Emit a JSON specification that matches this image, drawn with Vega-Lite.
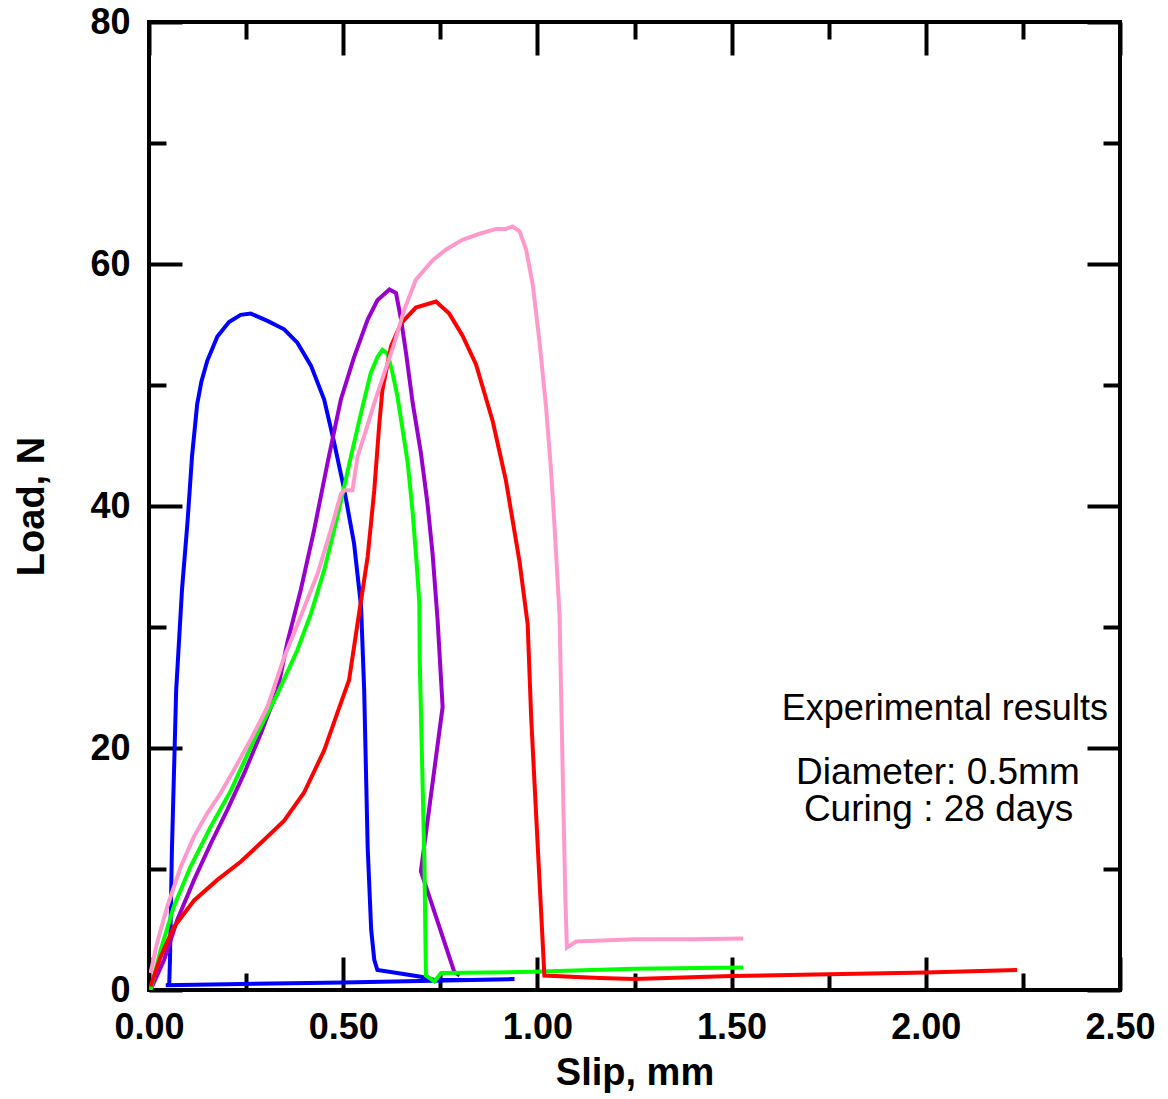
{
  "$schema": "https://vega.github.io/schema/vega-lite/v6.json",
  "width": 971,
  "height": 968,
  "autosize": {"type": "none"},
  "padding": {"left": 149, "top": 22, "right": 48, "bottom": 109},
  "background": "white",
  "config": {
    "view": {"stroke": "black", "strokeWidth": 4},
    "axis": {
      "grid": false,
      "domain": false,
      "tickColor": "black",
      "tickWidth": 4,
      "labelFont": "Liberation Sans",
      "labelFontSize": 36,
      "labelFontWeight": "bold",
      "labelColor": "black",
      "labelFlush": false,
      "labelOverlap": false,
      "titleFont": "Liberation Sans",
      "titleFontSize": 38,
      "titleFontWeight": "bold",
      "titleColor": "black"
    }
  },
  "data": {
    "values": [
      {"specimen": "A", "idx": 1, "slip": 0.052, "load": 0.41},
      {"specimen": "A", "idx": 2, "slip": 0.054, "load": 2.5},
      {"specimen": "A", "idx": 3, "slip": 0.059, "load": 11.6},
      {"specimen": "A", "idx": 4, "slip": 0.070, "load": 24.8},
      {"specimen": "A", "idx": 5, "slip": 0.085, "load": 33.1},
      {"specimen": "A", "idx": 6, "slip": 0.099, "load": 38.6},
      {"specimen": "A", "idx": 7, "slip": 0.111, "load": 44.2},
      {"specimen": "A", "idx": 8, "slip": 0.124, "load": 48.4},
      {"specimen": "A", "idx": 9, "slip": 0.135, "load": 50.3},
      {"specimen": "A", "idx": 10, "slip": 0.150, "load": 52.0},
      {"specimen": "A", "idx": 11, "slip": 0.176, "load": 54.0},
      {"specimen": "A", "idx": 12, "slip": 0.206, "load": 55.2},
      {"specimen": "A", "idx": 13, "slip": 0.236, "load": 55.8},
      {"specimen": "A", "idx": 14, "slip": 0.262, "load": 55.9},
      {"specimen": "A", "idx": 15, "slip": 0.305, "load": 55.3},
      {"specimen": "A", "idx": 16, "slip": 0.348, "load": 54.6},
      {"specimen": "A", "idx": 17, "slip": 0.382, "load": 53.5},
      {"specimen": "A", "idx": 18, "slip": 0.417, "load": 51.6},
      {"specimen": "A", "idx": 19, "slip": 0.451, "load": 48.8},
      {"specimen": "A", "idx": 20, "slip": 0.477, "load": 45.2},
      {"specimen": "A", "idx": 21, "slip": 0.503, "load": 41.3},
      {"specimen": "A", "idx": 22, "slip": 0.528, "load": 36.9},
      {"specimen": "A", "idx": 23, "slip": 0.546, "load": 31.7},
      {"specimen": "A", "idx": 24, "slip": 0.554, "load": 24.8},
      {"specimen": "A", "idx": 25, "slip": 0.563, "load": 11.8},
      {"specimen": "A", "idx": 26, "slip": 0.572, "load": 5.0},
      {"specimen": "A", "idx": 27, "slip": 0.580, "load": 2.5},
      {"specimen": "A", "idx": 28, "slip": 0.588, "load": 1.65},
      {"specimen": "A", "idx": 29, "slip": 0.639, "load": 1.4},
      {"specimen": "A", "idx": 30, "slip": 0.700, "load": 1.1},
      {"specimen": "A", "idx": 31, "slip": 0.735, "load": 0.83},
      {"specimen": "A", "idx": 32, "slip": 0.825, "load": 0.83},
      {"specimen": "A", "idx": 33, "slip": 0.941, "load": 0.9},
      {"specimen": "A", "idx": 34, "slip": 0.500, "load": 0.62},
      {"specimen": "A", "idx": 35, "slip": 0.043, "load": 0.4},

      {"specimen": "B", "idx": 1, "slip": 0.004, "load": 0.0},
      {"specimen": "B", "idx": 2, "slip": 0.039, "load": 2.5},
      {"specimen": "B", "idx": 3, "slip": 0.073, "load": 5.8},
      {"specimen": "B", "idx": 4, "slip": 0.116, "load": 9.1},
      {"specimen": "B", "idx": 5, "slip": 0.159, "load": 12.1},
      {"specimen": "B", "idx": 6, "slip": 0.202, "load": 14.9},
      {"specimen": "B", "idx": 7, "slip": 0.245, "load": 17.9},
      {"specimen": "B", "idx": 8, "slip": 0.288, "load": 21.2},
      {"specimen": "B", "idx": 9, "slip": 0.331, "load": 24.8},
      {"specimen": "B", "idx": 10, "slip": 0.356, "load": 28.7},
      {"specimen": "B", "idx": 11, "slip": 0.391, "load": 33.1},
      {"specimen": "B", "idx": 12, "slip": 0.425, "load": 38.0},
      {"specimen": "B", "idx": 13, "slip": 0.460, "load": 43.6},
      {"specimen": "B", "idx": 14, "slip": 0.494, "load": 48.8},
      {"specimen": "B", "idx": 15, "slip": 0.528, "load": 52.3},
      {"specimen": "B", "idx": 16, "slip": 0.563, "load": 55.4},
      {"specimen": "B", "idx": 17, "slip": 0.588, "load": 57.0},
      {"specimen": "B", "idx": 18, "slip": 0.619, "load": 57.9},
      {"specimen": "B", "idx": 19, "slip": 0.636, "load": 57.6},
      {"specimen": "B", "idx": 20, "slip": 0.649, "load": 55.4},
      {"specimen": "B", "idx": 21, "slip": 0.662, "load": 52.6},
      {"specimen": "B", "idx": 22, "slip": 0.679, "load": 48.5},
      {"specimen": "B", "idx": 23, "slip": 0.700, "load": 44.4},
      {"specimen": "B", "idx": 24, "slip": 0.717, "load": 40.2},
      {"specimen": "B", "idx": 25, "slip": 0.730, "load": 36.1},
      {"specimen": "B", "idx": 26, "slip": 0.743, "load": 30.6},
      {"specimen": "B", "idx": 27, "slip": 0.756, "load": 23.4},
      {"specimen": "B", "idx": 28, "slip": 0.700, "load": 9.8},
      {"specimen": "B", "idx": 29, "slip": 0.722, "load": 7.7},
      {"specimen": "B", "idx": 30, "slip": 0.786, "load": 1.5},
      {"specimen": "B", "idx": 31, "slip": 0.800, "load": 1.2},

      {"specimen": "C", "idx": 1, "slip": 0.004, "load": 0.0},
      {"specimen": "C", "idx": 2, "slip": 0.030, "load": 3.3},
      {"specimen": "C", "idx": 3, "slip": 0.064, "load": 6.9},
      {"specimen": "C", "idx": 4, "slip": 0.107, "load": 10.2},
      {"specimen": "C", "idx": 5, "slip": 0.159, "load": 13.5},
      {"specimen": "C", "idx": 6, "slip": 0.211, "load": 16.5},
      {"specimen": "C", "idx": 7, "slip": 0.271, "load": 20.7},
      {"specimen": "C", "idx": 8, "slip": 0.331, "load": 24.5},
      {"specimen": "C", "idx": 9, "slip": 0.382, "load": 28.1},
      {"specimen": "C", "idx": 10, "slip": 0.417, "load": 31.1},
      {"specimen": "C", "idx": 11, "slip": 0.451, "load": 34.7},
      {"specimen": "C", "idx": 12, "slip": 0.485, "load": 39.1},
      {"specimen": "C", "idx": 13, "slip": 0.520, "load": 44.1},
      {"specimen": "C", "idx": 14, "slip": 0.546, "load": 47.7},
      {"specimen": "C", "idx": 15, "slip": 0.571, "load": 51.0},
      {"specimen": "C", "idx": 16, "slip": 0.588, "load": 52.3},
      {"specimen": "C", "idx": 17, "slip": 0.601, "load": 52.9},
      {"specimen": "C", "idx": 18, "slip": 0.614, "load": 52.6},
      {"specimen": "C", "idx": 19, "slip": 0.627, "load": 51.0},
      {"specimen": "C", "idx": 20, "slip": 0.640, "load": 49.0},
      {"specimen": "C", "idx": 21, "slip": 0.653, "load": 46.3},
      {"specimen": "C", "idx": 22, "slip": 0.666, "load": 43.6},
      {"specimen": "C", "idx": 23, "slip": 0.679, "load": 39.4},
      {"specimen": "C", "idx": 24, "slip": 0.689, "load": 35.3},
      {"specimen": "C", "idx": 25, "slip": 0.696, "load": 32.0},
      {"specimen": "C", "idx": 26, "slip": 0.697, "load": 27.3},
      {"specimen": "C", "idx": 27, "slip": 0.703, "load": 19.0},
      {"specimen": "C", "idx": 28, "slip": 0.709, "load": 10.7},
      {"specimen": "C", "idx": 29, "slip": 0.713, "load": 1.2},
      {"specimen": "C", "idx": 30, "slip": 0.735, "load": 0.7},
      {"specimen": "C", "idx": 31, "slip": 0.752, "load": 1.4},
      {"specimen": "C", "idx": 32, "slip": 0.987, "load": 1.5},
      {"specimen": "C", "idx": 33, "slip": 1.250, "load": 1.75},
      {"specimen": "C", "idx": 34, "slip": 1.530, "load": 1.85},

      {"specimen": "D", "idx": 1, "slip": 0.004, "load": 0.3},
      {"specimen": "D", "idx": 2, "slip": 0.030, "load": 2.75},
      {"specimen": "D", "idx": 3, "slip": 0.064, "load": 5.2},
      {"specimen": "D", "idx": 4, "slip": 0.116, "load": 7.4},
      {"specimen": "D", "idx": 5, "slip": 0.176, "load": 9.1},
      {"specimen": "D", "idx": 6, "slip": 0.236, "load": 10.6},
      {"specimen": "D", "idx": 7, "slip": 0.296, "load": 12.4},
      {"specimen": "D", "idx": 8, "slip": 0.348, "load": 14.0},
      {"specimen": "D", "idx": 9, "slip": 0.399, "load": 16.3},
      {"specimen": "D", "idx": 10, "slip": 0.451, "load": 19.8},
      {"specimen": "D", "idx": 11, "slip": 0.485, "load": 22.9},
      {"specimen": "D", "idx": 12, "slip": 0.515, "load": 25.6},
      {"specimen": "D", "idx": 13, "slip": 0.537, "load": 30.3},
      {"specimen": "D", "idx": 14, "slip": 0.563, "load": 35.8},
      {"specimen": "D", "idx": 15, "slip": 0.580, "load": 41.3},
      {"specimen": "D", "idx": 16, "slip": 0.593, "load": 46.8},
      {"specimen": "D", "idx": 17, "slip": 0.601, "load": 49.6},
      {"specimen": "D", "idx": 18, "slip": 0.623, "load": 53.2},
      {"specimen": "D", "idx": 19, "slip": 0.649, "load": 55.1},
      {"specimen": "D", "idx": 20, "slip": 0.687, "load": 56.4},
      {"specimen": "D", "idx": 21, "slip": 0.739, "load": 56.9},
      {"specimen": "D", "idx": 22, "slip": 0.773, "load": 55.9},
      {"specimen": "D", "idx": 23, "slip": 0.807, "load": 54.1},
      {"specimen": "D", "idx": 24, "slip": 0.842, "load": 51.7},
      {"specimen": "D", "idx": 25, "slip": 0.885, "load": 47.0},
      {"specimen": "D", "idx": 26, "slip": 0.919, "load": 42.1},
      {"specimen": "D", "idx": 27, "slip": 0.954, "load": 35.4},
      {"specimen": "D", "idx": 28, "slip": 0.975, "load": 30.2},
      {"specimen": "D", "idx": 29, "slip": 0.984, "load": 22.5},
      {"specimen": "D", "idx": 30, "slip": 1.001, "load": 11.8},
      {"specimen": "D", "idx": 31, "slip": 1.018, "load": 1.2},
      {"specimen": "D", "idx": 32, "slip": 1.160, "load": 1.0},
      {"specimen": "D", "idx": 33, "slip": 1.250, "load": 0.9},
      {"specimen": "D", "idx": 34, "slip": 1.500, "load": 1.15},
      {"specimen": "D", "idx": 35, "slip": 1.750, "load": 1.3},
      {"specimen": "D", "idx": 36, "slip": 2.000, "load": 1.45},
      {"specimen": "D", "idx": 37, "slip": 2.235, "load": 1.65},

      {"specimen": "E", "idx": 1, "slip": 0.004, "load": 1.4},
      {"specimen": "E", "idx": 2, "slip": 0.021, "load": 3.9},
      {"specimen": "E", "idx": 3, "slip": 0.047, "load": 6.9},
      {"specimen": "E", "idx": 4, "slip": 0.082, "load": 10.2},
      {"specimen": "E", "idx": 5, "slip": 0.116, "load": 12.7},
      {"specimen": "E", "idx": 6, "slip": 0.150, "load": 14.6},
      {"specimen": "E", "idx": 7, "slip": 0.185, "load": 16.3},
      {"specimen": "E", "idx": 8, "slip": 0.219, "load": 18.2},
      {"specimen": "E", "idx": 9, "slip": 0.262, "load": 20.7},
      {"specimen": "E", "idx": 10, "slip": 0.305, "load": 23.4},
      {"specimen": "E", "idx": 11, "slip": 0.348, "load": 27.5},
      {"specimen": "E", "idx": 12, "slip": 0.391, "load": 30.9},
      {"specimen": "E", "idx": 13, "slip": 0.434, "load": 34.4},
      {"specimen": "E", "idx": 14, "slip": 0.468, "load": 38.0},
      {"specimen": "E", "idx": 15, "slip": 0.494, "load": 41.0},
      {"specimen": "E", "idx": 16, "slip": 0.503, "load": 41.3},
      {"specimen": "E", "idx": 17, "slip": 0.524, "load": 41.3},
      {"specimen": "E", "idx": 18, "slip": 0.537, "load": 44.1},
      {"specimen": "E", "idx": 19, "slip": 0.559, "load": 46.3},
      {"specimen": "E", "idx": 20, "slip": 0.580, "load": 48.5},
      {"specimen": "E", "idx": 21, "slip": 0.606, "load": 51.0},
      {"specimen": "E", "idx": 22, "slip": 0.631, "load": 53.4},
      {"specimen": "E", "idx": 23, "slip": 0.657, "load": 56.2},
      {"specimen": "E", "idx": 24, "slip": 0.687, "load": 58.7},
      {"specimen": "E", "idx": 25, "slip": 0.730, "load": 60.3},
      {"specimen": "E", "idx": 26, "slip": 0.765, "load": 61.2},
      {"specimen": "E", "idx": 27, "slip": 0.807, "load": 62.0},
      {"specimen": "E", "idx": 28, "slip": 0.851, "load": 62.5},
      {"specimen": "E", "idx": 29, "slip": 0.894, "load": 62.9},
      {"specimen": "E", "idx": 30, "slip": 0.919, "load": 62.9},
      {"specimen": "E", "idx": 31, "slip": 0.936, "load": 63.1},
      {"specimen": "E", "idx": 32, "slip": 0.954, "load": 62.7},
      {"specimen": "E", "idx": 33, "slip": 0.971, "load": 61.2},
      {"specimen": "E", "idx": 34, "slip": 0.988, "load": 58.3},
      {"specimen": "E", "idx": 35, "slip": 1.005, "load": 53.7},
      {"specimen": "E", "idx": 36, "slip": 1.022, "load": 48.3},
      {"specimen": "E", "idx": 37, "slip": 1.035, "load": 43.0},
      {"specimen": "E", "idx": 38, "slip": 1.044, "load": 38.4},
      {"specimen": "E", "idx": 39, "slip": 1.057, "load": 31.0},
      {"specimen": "E", "idx": 40, "slip": 1.065, "load": 18.2},
      {"specimen": "E", "idx": 41, "slip": 1.072, "load": 7.5},
      {"specimen": "E", "idx": 42, "slip": 1.076, "load": 3.5},
      {"specimen": "E", "idx": 43, "slip": 1.100, "load": 4.0},
      {"specimen": "E", "idx": 44, "slip": 1.250, "load": 4.2},
      {"specimen": "E", "idx": 45, "slip": 1.400, "load": 4.2},
      {"specimen": "E", "idx": 46, "slip": 1.530, "load": 4.25}
    ]
  },
  "layer": [
    {
      "mark": {"type": "line", "strokeWidth": 4, "clip": true},
      "encoding": {
        "x": {"field": "slip", "type": "quantitative",
              "scale": {"domain": [0, 2.5], "nice": false, "zero": false},
              "axis": {"orient": "bottom", "values": [0, 0.5, 1, 1.5, 2, 2.5], "format": ".2f",
                       "ticks": false, "labelPadding": 20, "title": "Slip, mm", "titlePadding": 9}},
        "y": {"field": "load", "type": "quantitative",
              "scale": {"domain": [0, 80], "nice": false, "zero": false},
              "axis": {"orient": "left", "values": [0, 20, 40, 60, 80], "format": "d",
                       "ticks": false, "labelPadding": 19, "title": "Load, N", "titlePadding": 38}},
        "color": {"field": "specimen", "type": "nominal",
                  "scale": {"domain": ["A", "B", "C", "D", "E"],
                            "range": ["#0000FF", "#9900CC", "#00FF00", "#FF0000", "#FF99CC"]},
                  "legend": null},
        "order": {"field": "idx", "type": "quantitative"}
      }
    },
    {
      "mark": {"type": "point", "opacity": 0},
      "encoding": {
        "x": {"field": "slip", "type": "quantitative",
              "scale": {"domain": [0, 2.5], "nice": false, "zero": false},
              "axis": {"orient": "bottom", "values": [0, 0.5, 1, 1.5, 2, 2.5], "tickSize": -33,
                       "labels": false, "title": null}},
        "y": {"field": "load", "type": "quantitative",
              "scale": {"domain": [0, 80], "nice": false, "zero": false},
              "axis": {"orient": "left", "values": [0, 20, 40, 60, 80], "tickSize": -33,
                       "labels": false, "title": null}}
      }
    },
    {
      "mark": {"type": "point", "opacity": 0},
      "encoding": {
        "x": {"field": "slip", "type": "quantitative",
              "scale": {"domain": [0, 2.5], "nice": false, "zero": false},
              "axis": {"orient": "bottom", "values": [0.25, 0.75, 1.25, 1.75, 2.25], "tickSize": -17,
                       "labels": false, "title": null}},
        "y": {"field": "load", "type": "quantitative",
              "scale": {"domain": [0, 80], "nice": false, "zero": false},
              "axis": {"orient": "left", "values": [10, 30, 50, 70], "tickSize": -17,
                       "labels": false, "title": null}}
      }
    },
    {
      "mark": {"type": "point", "opacity": 0},
      "encoding": {
        "x": {"field": "slip", "type": "quantitative",
              "scale": {"domain": [0, 2.5], "nice": false, "zero": false},
              "axis": {"orient": "top", "values": [0, 0.5, 1, 1.5, 2, 2.5], "tickSize": -33,
                       "labels": false, "title": null}},
        "y": {"field": "load", "type": "quantitative",
              "scale": {"domain": [0, 80], "nice": false, "zero": false},
              "axis": {"orient": "right", "values": [0, 20, 40, 60, 80], "tickSize": -33,
                       "labels": false, "title": null}}
      }
    },
    {
      "mark": {"type": "point", "opacity": 0},
      "encoding": {
        "x": {"field": "slip", "type": "quantitative",
              "scale": {"domain": [0, 2.5], "nice": false, "zero": false},
              "axis": {"orient": "top", "values": [0.25, 0.75, 1.25, 1.75, 2.25], "tickSize": -17,
                       "labels": false, "title": null}},
        "y": {"field": "load", "type": "quantitative",
              "scale": {"domain": [0, 80], "nice": false, "zero": false},
              "axis": {"orient": "right", "values": [10, 30, 50, 70], "tickSize": -17,
                       "labels": false, "title": null}}
      }
    },
    {
      "data": {"values": [{"note": "Experimental results"}]},
      "mark": {"type": "text", "font": "Liberation Sans", "fontSize": 36, "align": "center", "baseline": "alphabetic", "color": "black"},
      "encoding": {
        "text": {"field": "note"},
        "x": {"datum": 2.049, "type": "quantitative", "axis": null},
        "y": {"datum": 22.31, "type": "quantitative", "axis": null}
      }
    },
    {
      "data": {"values": [{"note": "Diameter: 0.5mm"}]},
      "mark": {"type": "text", "font": "Liberation Sans", "fontSize": 37, "align": "center", "baseline": "alphabetic", "color": "black"},
      "encoding": {
        "text": {"field": "note"},
        "x": {"datum": 2.031, "type": "quantitative", "axis": null},
        "y": {"datum": 17.0, "type": "quantitative", "axis": null}
      }
    },
    {
      "data": {"values": [{"note": "Curing : 28 days"}]},
      "mark": {"type": "text", "font": "Liberation Sans", "fontSize": 37, "align": "center", "baseline": "alphabetic", "color": "black"},
      "encoding": {
        "text": {"field": "note"},
        "x": {"datum": 2.033, "type": "quantitative", "axis": null},
        "y": {"datum": 13.95, "type": "quantitative", "axis": null}
      }
    }
  ],
  "resolve": {"axis": {"x": "independent", "y": "independent"}}
}
